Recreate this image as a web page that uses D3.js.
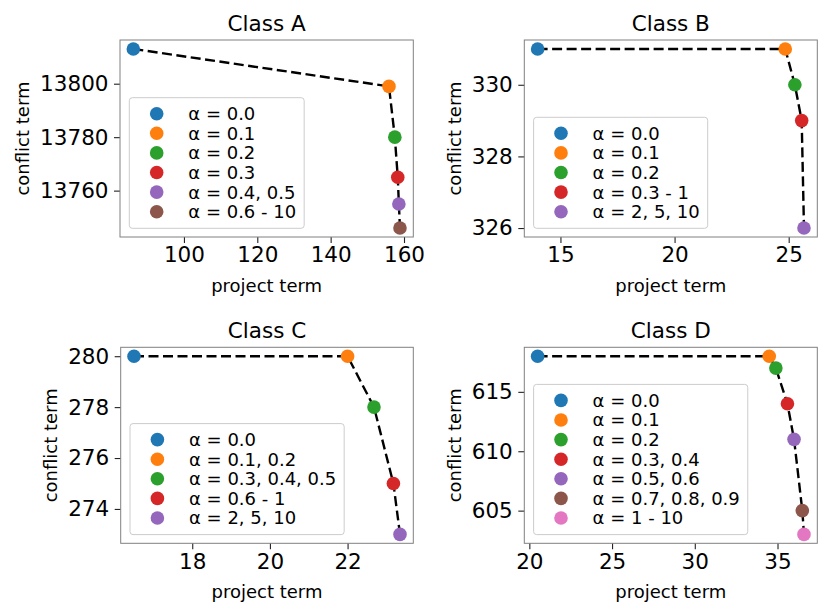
<!DOCTYPE html>
<html>
<head>
<meta charset="utf-8">
<script src="https://cdn.jsdelivr.net/npm/d3@7"></script>
<style>
  body { margin: 0; background: #fff; }
  text { font-family: "DejaVu Sans", sans-serif; fill: #000; }
</style>
</head>
<body>
<script>
// --- data ---
const titles = ["Class A", "Class B", "Class C", "Class D"];

const projectA  = [86.2, 155.9, 157.5, 158.3, 158.6, 158.9];
const conflictA = [13813, 13799, 13780, 13765, 13755, 13746];
const labelsA   = ["α = 0.0", "α = 0.1", "α = 0.2", "α = 0.3", "α = 0.4, 0.5", "α = 0.6 - 10"];
const xTicksA = [100, 120, 140, 160];
const yTicksA = [13760, 13780, 13800];

const projectB  = [14.0, 24.85, 25.27, 25.57, 25.67];
const conflictB = [331, 331, 330, 329, 326];
const labelsB   = ["α = 0.0", "α = 0.1", "α = 0.2", "α = 0.3 - 1", "α = 2, 5, 10"];
const xTicksB = [15, 20, 25];
const yTicksB = [326, 328, 330];

const projectC  = [16.5, 22.0, 22.68, 23.18, 23.35];
const conflictC = [280, 280, 278, 275, 273];
const labelsC   = ["α = 0.0", "α = 0.1, 0.2", "α = 0.3, 0.4, 0.5", "α = 0.6 - 1", "α = 2, 5, 10"];
const xTicksC = [18, 20, 22];
const yTicksC = [274, 276, 278, 280];

const projectD  = [20.5, 34.5, 34.9, 35.6, 36.0, 36.5, 36.6];
const conflictD = [618, 618, 617, 614, 611, 605, 603];
const labelsD   = ["α = 0.0", "α = 0.1", "α = 0.2", "α = 0.3, 0.4", "α = 0.5, 0.6", "α = 0.7, 0.8, 0.9", "α = 1 - 10"];
const xTicksD = [20, 25, 30, 35];
const yTicksD = [605, 610, 615];

const colors = ["#1f77b4", "#ff7f0e", "#2ca02c", "#d62728", "#9467bd", "#8c564b", "#e377c2"];

const width = 830, height = 616;
const svg = d3.select("body").append("svg")
    .attr("width", width)
    .attr("height", height);

// axes boxes (left, right, top, bottom)
const boxes = [
    {l: 120, r: 413.3, t: 40, b: 237},
    {l: 524.3, r: 817.3, t: 40, b: 237},
    {l: 120.7, r: 413.3, t: 347.3, b: 543.3},
    {l: 524.3, r: 817.3, t: 347.3, b: 543.3}
];

const panels = [
    {xs: projectA, ys: conflictA, labels: labelsA, xt: xTicksA, yt: yTicksA},
    {xs: projectB, ys: conflictB, labels: labelsB, xt: xTicksB, yt: yTicksB},
    {xs: projectC, ys: conflictC, labels: labelsC, xt: xTicksC, yt: yTicksC},
    {xs: projectD, ys: conflictD, labels: labelsD, xt: xTicksD, yt: yTicksD}
];

const tickFont = 21.5, titleFont = 21.5, labelFont = 18, legendFont = 18;

// matplotlib-like 5% padding around the data
const padded = arr => {
    const [lo, hi] = d3.extent(arr);
    const m = (hi - lo) * 0.05;
    return [lo - m, hi + m];
};

const drawPanel = (p, box, title) => {
    const pts = p.xs.map((x, i) => ({x, y: p.ys[i], label: p.labels[i], c: colors[i]}));
    const x = d3.scaleLinear().domain(padded(p.xs)).range([box.l, box.r]);
    const y = d3.scaleLinear().domain(padded(p.ys)).range([box.b, box.t]);

    const g = svg.append("g");

    // x axis
    const xa = g.append("g")
        .attr("transform", `translate(0,${box.b})`)
        .call(d3.axisBottom(x).tickValues(p.xt).tickSize(6).tickPadding(4).tickFormat(d3.format("d")));
    xa.select(".domain").remove();
    xa.selectAll(".tick line").attr("stroke", "#222").attr("stroke-width", 1.1);
    xa.selectAll(".tick text").attr("font-size", tickFont).attr("font-family", "DejaVu Sans").attr("fill", "#000");

    // y axis
    const ya = g.append("g")
        .attr("transform", `translate(${box.l},0)`)
        .call(d3.axisLeft(y).tickValues(p.yt).tickSize(6).tickPadding(5.5).tickFormat(d3.format("d")));
    ya.select(".domain").remove();
    ya.selectAll(".tick line").attr("stroke", "#222").attr("stroke-width", 1.1);
    ya.selectAll(".tick text").attr("font-size", tickFont).attr("font-family", "DejaVu Sans").attr("fill", "#000");

    // spines
    g.append("rect")
        .attr("x", box.l).attr("y", box.t)
        .attr("width", box.r - box.l).attr("height", box.b - box.t)
        .attr("fill", "none").attr("stroke", "#808080").attr("stroke-width", 1);

    // title and axis labels
    g.append("text")
        .attr("x", (box.l + box.r) / 2).attr("y", box.t - 9.5)
        .attr("text-anchor", "middle").attr("font-size", titleFont)
        .text(title);

    g.append("text")
        .attr("x", (box.l + box.r) / 2).attr("y", box.b + 55)
        .attr("text-anchor", "middle").attr("font-size", labelFont)
        .text("project term");

    let tw = 0;
    ya.selectAll(".tick text").each(function() { tw = Math.max(tw, this.getBBox().width); });
    const lx = box.l - 11.5 - tw - 11;
    g.append("text")
        .attr("transform", `translate(${lx},${(box.t + box.b) / 2}) rotate(-90)`)
        .attr("text-anchor", "middle").attr("font-size", labelFont)
        .text("conflict term");

    // dashed line and points
    const line = d3.line().x(d => x(d.x)).y(d => y(d.y));
    g.append("path")
        .datum(pts)
        .attr("d", line)
        .attr("fill", "none")
        .attr("stroke", "#000")
        .attr("stroke-width", 2.4)
        .attr("stroke-dasharray", "10,4.5");

    g.selectAll("circle.pt")
        .data(pts)
        .join("circle")
        .attr("class", "pt")
        .attr("cx", d => x(d.x))
        .attr("cy", d => y(d.y))
        .attr("r", 6.8)
        .attr("fill", d => d.c);

    // legend, lower left
    const rowH = 19.6;
    const lh = pts.length * rowH + 13;
    const lg = g.append("g").attr("transform", `translate(${box.l + 9.3},${box.b - 8.7 - lh})`);
    const frame = lg.append("rect")
        .attr("rx", 3).attr("ry", 3)
        .attr("height", lh)
        .attr("fill", "#fff").attr("fill-opacity", 0.8)
        .attr("stroke", "#cccccc").attr("stroke-width", 1);
    const rows = lg.selectAll("g.row")
        .data(pts)
        .join("g")
        .attr("class", "row")
        .attr("transform", (d, i) => `translate(0,${16 + i * rowH})`);
    rows.append("circle").attr("cx", 27.4).attr("r", 6.8).attr("fill", d => d.c);
    rows.append("text")
        .attr("x", 59).attr("dy", "0.36em")
        .attr("font-size", legendFont)
        .text(d => d.label);
    let mw = 0;
    rows.selectAll("text").each(function() { mw = Math.max(mw, this.getComputedTextLength()); });
    frame.attr("width", 59 + mw + 8);
};

panels.forEach((p, i) => drawPanel(p, boxes[i], titles[i]));
</script>
</body>
</html>
